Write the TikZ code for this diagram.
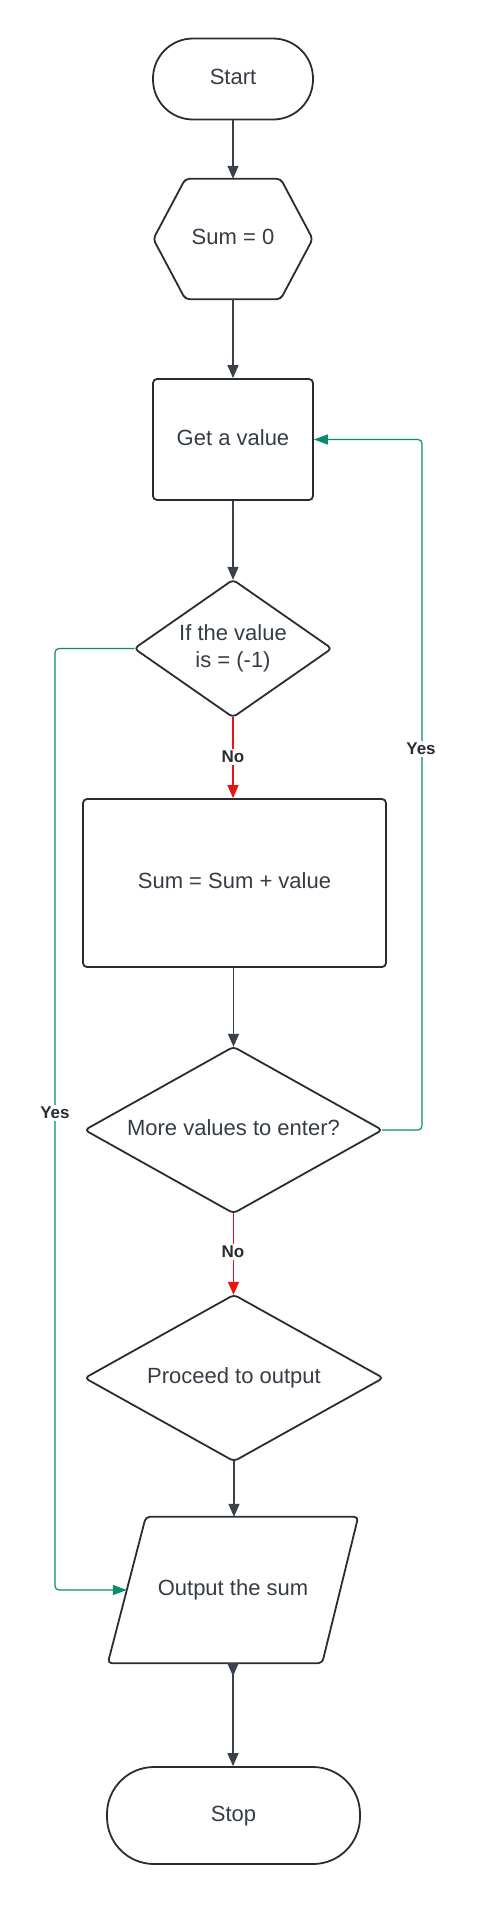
\documentclass[tikz,border=0pt]{standalone}
\usepackage{fontspec}
\setmainfont{Liberation Sans}
\usetikzlibrary{arrows.meta,calc}
\definecolor{lineC}{HTML}{3A414A}
\definecolor{borderC}{HTML}{282C33}
\definecolor{textC}{HTML}{363C45}
\definecolor{greenC}{HTML}{0C8A6E}
\definecolor{redC}{HTML}{E81313}
\tikzset{
  box/.style={draw=borderC, line width=1.8pt, rounded corners=4pt, text=textC, font=\fontsize{22}{27}\selectfont, align=center, inner sep=0pt, text height=16pt, text depth=5pt},
  ghost/.style={draw=none, text=textC, font=\fontsize{22}{27}\selectfont, align=center, inner sep=0pt, text height=16pt, text depth=5pt},
  outline/.style={draw=borderC, line width=1.8pt, rounded corners=4pt, line join=round},
  conn/.style={draw=lineC, line width=1.3pt, -{Triangle[width=11pt,length=13pt]}},
  noconn/.style={draw=redC, line width=1.5pt, -{Triangle[width=11pt,length=13pt]}},
  yesconn/.style={draw=greenC, line width=1.2pt, rounded corners=4pt, -{Triangle[width=10pt,length=14pt]}},
  lbl/.style={fill=white, text=borderC, font=\fontsize{17}{20}\selectfont\bfseries, inner sep=2pt},
}
\begin{document}
\begin{tikzpicture}[x=1pt,y=-1pt]
\useasboundingbox (0,0) rectangle (478,1906);
% nodes
\node[box, rounded corners=40pt, minimum width=160pt, minimum height=81pt] (start) at (233,79) {Start};
\node[ghost, minimum width=159pt, minimum height=120pt] (sum0) at (233,239) {Sum = 0};
\draw[outline] ($(sum0.north west)+(32,0)$) -- ($(sum0.north east)+(-32,0)$) -- (sum0.east) -- ($(sum0.south east)+(-32,0)$) -- ($(sum0.south west)+(32,0)$) -- (sum0.west) -- cycle;
\node[box, minimum width=160pt, minimum height=121pt] (get) at (233,439.5) {Get a value};
\node[ghost, minimum width=197pt, minimum height=137pt, text height=42pt, text depth=5pt] (d1) at (233,648.5) {If the value\\is = (-1)};
\draw[outline] (d1.north) -- (d1.east) -- (d1.south) -- (d1.west) -- cycle;
\node[box, minimum width=303pt, minimum height=168pt] (add) at (234.5,883) {Sum = Sum + value};
\node[ghost, minimum width=297pt, minimum height=166pt] (d2) at (233.5,1130) {More values to enter?};
\draw[outline] (d2.north) -- (d2.east) -- (d2.south) -- (d2.west) -- cycle;
\node[ghost, minimum width=298pt, minimum height=166pt] (d3) at (234,1378) {Proceed to output};
\draw[outline] (d3.north) -- (d3.east) -- (d3.south) -- (d3.west) -- cycle;
\node[ghost, minimum width=250pt, minimum height=146pt] (out) at (233,1590) {Output the sum};
\draw[outline] ($(out.north west)+(38,0)$) -- (out.north east) -- ($(out.south east)+(-36,0)$) -- (out.south west) -- cycle;
\coordinate (outL) at ($($(out.north west)+(38,0)$)!0.5!(out.south west)$);
\node[box, rounded corners=47pt, minimum width=253pt, minimum height=97pt] (stop) at (233.5,1815.5) {Stop};
% connectors
\draw[conn] (start.south) -- (sum0.north);
\draw[conn] (sum0.south) -- (get.north);
\draw[conn] (get.south) -- (d1.north);
\draw[noconn] (d1.south) -- (d1.south |- add.north);
\draw[conn] (add.south -| d2.north) -- (d2.north);
\draw[noconn] (d2.south) -- (d2.south |- d3.north);
\draw[conn] (d3.south) -- (d3.south |- out.north);
\draw[draw=lineC, line width=1.3pt, {Triangle[reversed,width=11pt,length=13pt]}-{Triangle[width=11pt,length=13pt]}] (out.south) -- (out.south |- stop.north);
\draw[yesconn] (d1.west) -- (55,648.5) -- (55,1590) -- (outL);
\draw[yesconn] (d2.east) -- (422,1130) -- (422,439.5) -- (get.east);
% labels
\node[lbl] (no1) at (233,757) {No};
\node[lbl] (no2) at (233,1252) {No};
\node[lbl] (yes1) at (55,1113) {Yes};
\node[lbl] (yes2) at (421,749) {Yes};
\end{tikzpicture}
\end{document}
